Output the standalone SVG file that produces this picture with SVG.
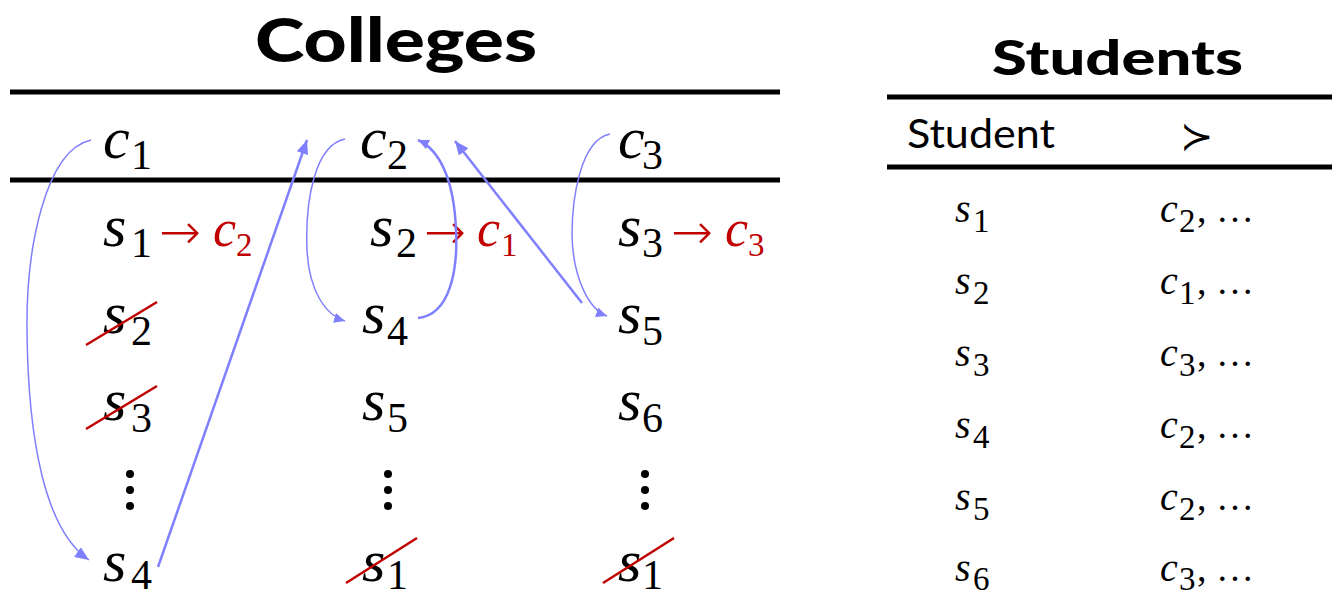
<svg xmlns="http://www.w3.org/2000/svg" width="1332" height="598" viewBox="0 0 1332 598">
<style>
.title{font-family:Lato,"Open Sans",sans-serif;font-weight:900;fill:#000}
.hdr{font-family:Lato,"Open Sans",sans-serif;font-size:40px;fill:#000}
.m{font-family:"Liberation Serif",serif;font-style:italic;font-size:60px;fill:#000}
.sb{font-family:"Liberation Serif",serif;font-size:42px;fill:#000}
.rm{font-family:"Liberation Serif",serif;font-style:italic;font-size:52px;fill:#c00000}
.rs{font-family:"Liberation Serif",serif;font-size:33px;fill:#c00000}
.tm{font-family:"Liberation Serif",serif;font-style:italic;font-size:40px;fill:#000}
.ts{font-family:"Liberation Serif",serif;font-size:33px;fill:#000}
.tu{font-family:"Liberation Serif",serif;font-size:38px;fill:#000}
.arr{font-family:"DejaVu Sans",sans-serif;font-weight:200;font-size:50px;fill:#c00000}
.rule{stroke:#000;stroke-width:5}
.strike{stroke:#c00000;stroke-width:2.5}
.thin{fill:none;stroke:#8080ff;stroke-width:1.5}
.thick{fill:none;stroke:#8080ff;stroke-width:2.5}
.dot{fill:#000}
</style>
<defs>
<marker id="ah" markerUnits="userSpaceOnUse" markerWidth="16" markerHeight="12" refX="14" refY="6" orient="auto">
<path d="M0 0 L14 6 L0 12 Z" fill="#8080ff"/>
</marker>
<marker id="ahs" markerUnits="userSpaceOnUse" markerWidth="12" markerHeight="10" refX="11" refY="5" orient="auto">
<path d="M0 0 L11 5 L0 10 Z" fill="#8080ff"/>
</marker>
</defs>

<g id="colleges-title">
<text class="title" x="255" y="62" font-size="60" textLength="282" lengthAdjust="spacingAndGlyphs">Colleges</text>
<line class="rule" x1="10" y1="92" x2="780" y2="92"/>
<line class="rule" x1="10" y1="180" x2="780" y2="180"/>
</g>

<g id="col-c1">
<text class="m" x="103" y="158">c</text><text class="sb" x="131" y="169">1</text>
<text class="m" x="103" y="246">s</text><text class="sb" x="131" y="257">1</text>
<text class="arr" x="159" y="249">→</text>
<text class="rm" x="213" y="246">c</text><text class="rs" x="236" y="256">2</text>
<text class="m" x="103" y="333">s</text><text class="sb" x="131" y="345">2</text>
<line class="strike" x1="86" y1="345" x2="157" y2="302"/>
<text class="m" x="103" y="420">s</text><text class="sb" x="131" y="432">3</text>
<line class="strike" x1="86" y1="429" x2="157" y2="386"/>
<circle class="dot" cx="130" cy="474" r="4"/><circle class="dot" cx="130" cy="490" r="4"/><circle class="dot" cx="130" cy="506" r="4"/>
<text class="m" x="103" y="581">s</text><text class="sb" x="131" y="589">4</text>
</g>

<g id="col-c2">
<text class="m" x="360" y="158">c</text><text class="sb" x="387" y="169">2</text>
<text class="m" x="370" y="246">s</text><text class="sb" x="396" y="257">2</text>
<text class="arr" x="424" y="249">→</text>
<text class="rm" x="477" y="246">c</text><text class="rs" x="501" y="256">1</text>
<text class="m" x="362" y="333">s</text><text class="sb" x="387" y="345">4</text>
<text class="m" x="362" y="420">s</text><text class="sb" x="387" y="432">5</text>
<circle class="dot" cx="388" cy="474" r="4"/><circle class="dot" cx="388" cy="490" r="4"/><circle class="dot" cx="388" cy="506" r="4"/>
<text class="m" x="362" y="581">s</text><text class="sb" x="387" y="589">1</text>
<line class="strike" x1="346" y1="583" x2="417" y2="538"/>
</g>

<g id="col-c3">
<text class="m" x="618" y="158">c</text><text class="sb" x="642" y="169">3</text>
<text class="m" x="618" y="246">s</text><text class="sb" x="642" y="257">3</text>
<text class="arr" x="671" y="249">→</text>
<text class="rm" x="725" y="246">c</text><text class="rs" x="748" y="256">3</text>
<text class="m" x="618" y="333">s</text><text class="sb" x="642" y="345">5</text>
<text class="m" x="618" y="420">s</text><text class="sb" x="642" y="432">6</text>
<circle class="dot" cx="645" cy="474" r="4"/><circle class="dot" cx="645" cy="490" r="4"/><circle class="dot" cx="645" cy="506" r="4"/>
<text class="m" x="618" y="581">s</text><text class="sb" x="642" y="589">1</text>
<line class="strike" x1="603" y1="583" x2="674" y2="538"/>
</g>

<g id="connectors">
<path class="thin" d="M91 140 C45 150 26 250 27 330 C28 440 45 530 89 560" marker-end="url(#ah)"/>
<path class="thick" d="M158 567 L307 140" stroke-width="2" marker-end="url(#ah)"/>
<path class="thin" d="M345 139 C315 145 305 200 307 250 C309 290 325 315 345 321" marker-end="url(#ahs)"/>
<path class="thick" d="M418 318 C450 315 458 270 456 230 C454 180 440 150 418 140" marker-end="url(#ahs)"/>
<path class="thick" d="M582 303 L455 141" stroke-width="2" marker-end="url(#ah)"/>
<path class="thin" d="M610 134 C580 140 572 200 572 235 C573 280 590 310 607 316" marker-end="url(#ahs)"/>
</g>

<g id="students-table">
<text class="title" x="992" y="75" font-size="47" textLength="251" lengthAdjust="spacingAndGlyphs">Students</text>
<line class="rule" x1="887" y1="97" x2="1332" y2="97"/>
<text class="hdr" x="907" y="148" textLength="148" lengthAdjust="spacingAndGlyphs">Student</text>
<text x="1180" y="150" font-family="DejaVu Sans,sans-serif" font-size="40" fill="#000">≻</text>
<line class="rule" x1="887" y1="167" x2="1332" y2="167"/>
</g>

<g id="row-s1"><text class="tm" x="955" y="222">s</text><text class="ts" x="973" y="232">1</text><text class="tm" x="1160" y="222">c</text><text class="ts" x="1179" y="232">2</text><text class="tu" x="1197" y="222">, …</text></g>
<g id="row-s2"><text class="tm" x="955" y="294">s</text><text class="ts" x="973" y="304">2</text><text class="tm" x="1160" y="294">c</text><text class="ts" x="1179" y="304">1</text><text class="tu" x="1197" y="294">, …</text></g>
<g id="row-s3"><text class="tm" x="955" y="366">s</text><text class="ts" x="973" y="376">3</text><text class="tm" x="1160" y="366">c</text><text class="ts" x="1179" y="376">3</text><text class="tu" x="1197" y="366">, …</text></g>
<g id="row-s4"><text class="tm" x="955" y="438">s</text><text class="ts" x="973" y="448">4</text><text class="tm" x="1160" y="438">c</text><text class="ts" x="1179" y="448">2</text><text class="tu" x="1197" y="438">, …</text></g>
<g id="row-s5"><text class="tm" x="955" y="510">s</text><text class="ts" x="973" y="520">5</text><text class="tm" x="1160" y="510">c</text><text class="ts" x="1179" y="520">2</text><text class="tu" x="1197" y="510">, …</text></g>
<g id="row-s6"><text class="tm" x="955" y="581">s</text><text class="ts" x="973" y="590">6</text><text class="tm" x="1160" y="581">c</text><text class="ts" x="1179" y="590">3</text><text class="tu" x="1197" y="581">, …</text></g>
</svg>
